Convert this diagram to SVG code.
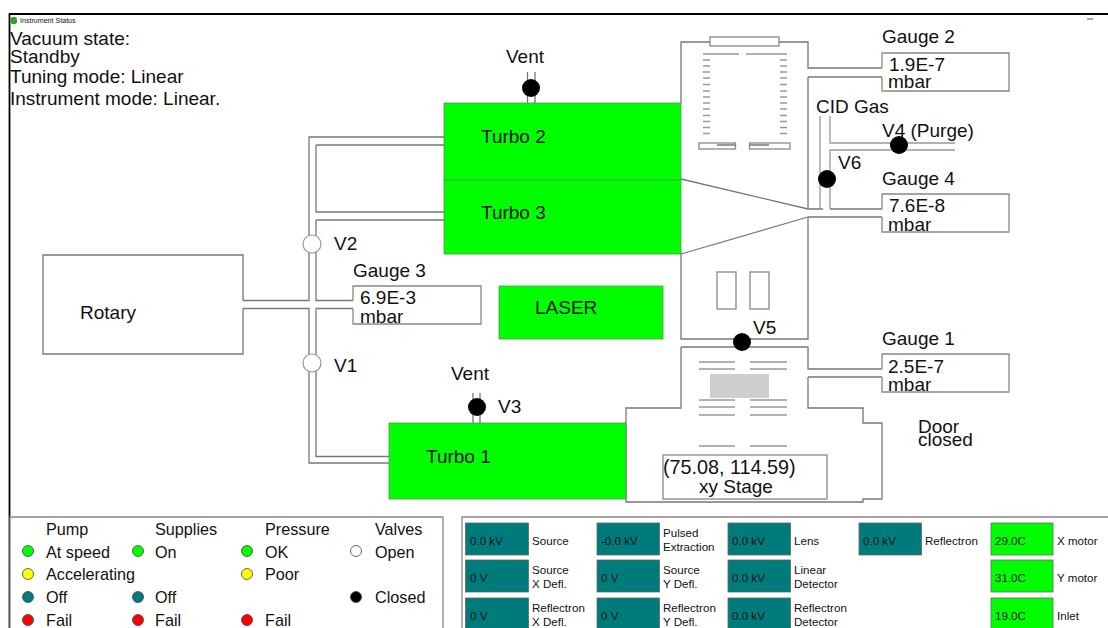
<svg xmlns="http://www.w3.org/2000/svg" width="1108" height="628" viewBox="0 0 1108 628">
<style>
text{font-family:"Liberation Sans",Arial,sans-serif;fill:#111}
.t18{font-size:19px}.t12{font-size:16.2px}.t11{font-size:11.6px}
.ln{fill:none;stroke:#777;stroke-width:1.3}
.lg{fill:none;stroke:#999;stroke-width:1.3}
.box{fill:#fff;stroke:#888;stroke-width:1.3}
.gr{fill:#00ff00;stroke:#4a9a4a;stroke-width:.8}
.te{fill:#007b7b;stroke:#666;stroke-width:.8}
.tg{fill:#00ff00;stroke:#666;stroke-width:.8}
.cb{fill:#000}
.co{fill:#fff;stroke:#999;stroke-width:1.2}
.s{stroke:#444;stroke-width:.8}
</style>
<rect width="1108" height="628" fill="#fff"/>
<path d="M9.500 628V14H1108" fill="none" stroke="#000" stroke-width="1.800"/>
<g id="title"><rect x="10.500" y="17" width="6.500" height="7" rx="2.500" fill="#2ca02c"/><text x="20" y="22.500" font-size="7.100" fill="#444">Instrument Status</text><path d="M1087 19h6" stroke="#555" stroke-width="1"/></g>
<g id="status" class="t18"><text x="10" y="45">Vacuum state:</text><text x="10" y="63">Standby</text><text x="10" y="83">Tuning mode: Linear</text><text x="10" y="105">Instrument mode: Linear.</text></g>
<g id="connectors">
<path class="ln" d="M243 300.500H309V137H444M316 145H444M316 145V212H444M316 220H444M316 220V300.500H353"/>
<path class="ln" d="M243 308.500H309V463H389M316 308.500H353M316 308.500V456.500H389"/>
<path class="ln" d="M681 103V42H808V68H882M808 77H882M808 77V209H823M681 179L808 209M681 254L808 217V339H681V254M808 217H882M830 209H882"/>
<path class="lg" d="M820 116V209M830 116V143H955M955 150H830V209"/>
<path class="ln" d="M527.500 72V103M535 72V103M473 393V423M480 393V423M528 178V180M535 178V180"/>
<path class="ln" d="M681 347H808V369H882M808 377H882M808 377V408H863V423H882V499H863V502H626V408H681V347"/>
</g>
<g id="analyser">
<rect class="box" x="710" y="37" width="69" height="9"/>
<path class="lg" d="M703 54H739M746 54H787M703 60h7M703 66h7M703 72h7M703 78h7M703 84.500h7M703 91h7M703 97h7M703 103h7M703 109h7M703 115.500h7M703 121.500h7M703 127.500h7M703 133.500h7M780 60h7M780 66h7M780 72h7M780 78h7M780 84.500h7M780 91h7M780 97h7M780 103h7M780 109h7M780 115.500h7M780 121.500h7M780 127.500h7M780 133.500h7"/>
<rect class="box" x="699" y="143" width="36.500" height="6"/><rect class="box" x="749.500" y="143" width="40.500" height="6"/>
<path class="ln" d="M717 145H735M750 145H769"/>
<rect class="box" x="717" y="272" width="19" height="37"/><rect class="box" x="750" y="272" width="19" height="37"/>
</g>
<g id="source">
<path class="lg" d="M699 362H735M750 362H787M699 369H735M750 369H787M699 400H735M750 400H787M699 407H735M750 407H787M699 415H735M750 415H787M699 446H735M750 446H787"/>
<rect x="710" y="374" width="59" height="24" fill="#cfcfcf"/>
</g>
<g id="turbo1"><rect class="gr" x="389" y="423" width="237" height="76"/><text class="t18" x="426" y="463">Turbo 1</text></g>
<g id="turbo2"><rect class="gr" x="444" y="103" width="237" height="77"/><text class="t18" x="481" y="143">Turbo 2</text></g>
<g id="turbo3"><rect class="gr" x="444" y="180" width="237" height="74"/><text class="t18" x="481" y="219">Turbo 3</text></g>
<g id="laser"><rect class="gr" x="499" y="286" width="164" height="53"/><text class="t18" x="535" y="314">LASER</text></g>
<g id="rotary"><path class="ln" d="M243 300.500V255H43V354H243V308.500"/><text class="t18" x="80" y="319">Rotary</text></g>
<g id="gauge2"><path class="box" d="M882 68V53H1009V91H882V77"/><text class="t18" x="882" y="43">Gauge 2</text><text class="t18" x="889" y="71">1.9E-7</text><text class="t18" x="888" y="88">mbar</text></g>
<g id="gauge4"><path class="box" d="M882 209V194H1009V232H882V217"/><text class="t18" x="882" y="185">Gauge 4</text><text class="t18" x="889" y="212">7.6E-8</text><text class="t18" x="888" y="231">mbar</text></g>
<g id="gauge1"><path class="box" d="M882 369V354H1009V392H882V377"/><text class="t18" x="882" y="345">Gauge 1</text><text class="t18" x="888" y="373">2.5E-7</text><text class="t18" x="888" y="391">mbar</text></g>
<g id="gauge3"><path class="box" d="M353 300.500V286H481V324H353V308.500"/><text class="t18" x="353" y="277">Gauge 3</text><text class="t18" x="360" y="304">6.9E-3</text><text class="t18" x="360" y="323">mbar</text></g>
<g id="xystage"><rect class="box" x="663" y="455" width="164" height="44"/><text class="t18" x="663" y="474" style="font-size:19.800px">(75.08, 114.59)</text><text class="t18" x="699" y="493">xy Stage</text></g>
<g id="door"><text class="t18" x="918" y="433">Door</text><text class="t18" x="918" y="446">closed</text></g>
<g id="valves">
<circle class="co" cx="312" cy="244" r="9"/><text class="t18" x="334" y="250">V2</text>
<circle class="co" cx="312" cy="363" r="9"/><text class="t18" x="334" y="372">V1</text>
<circle class="cb" cx="531" cy="88" r="9"/><text class="t18" x="506" y="63">Vent</text>
<circle class="cb" cx="477" cy="407" r="9"/><text class="t18" x="451" y="380">Vent</text><text class="t18" x="498" y="413">V3</text>
<circle class="cb" cx="899" cy="145" r="9"/><text class="t18" x="882" y="137">V4 (Purge)</text>
<circle class="cb" cx="827" cy="179" r="9"/><text class="t18" x="838" y="169">V6</text>
<circle class="cb" cx="742" cy="342" r="9"/><text class="t18" x="753" y="334">V5</text>
<text class="t18" x="816" y="113">CID Gas</text>
</g>
<g id="legend">
<path class="box" d="M10 628V517H443V628" fill="#fff"/>
<g class="t12"><text x="46" y="535">Pump</text><text x="155" y="535">Supplies</text><text x="265" y="535">Pressure</text><text x="375" y="535">Valves</text>
<text x="46" y="558">At speed</text><text x="155" y="558">On</text><text x="265" y="558">OK</text><text x="375" y="558">Open</text>
<text x="46" y="580">Accelerating</text><text x="265" y="580">Poor</text>
<text x="46" y="603">Off</text><text x="155" y="603">Off</text><text x="375" y="603">Closed</text>
<text x="46" y="626">Fail</text><text x="155" y="626">Fail</text><text x="265" y="626">Fail</text></g>
<g class="s"><circle cx="28" cy="551" r="5.500" fill="#00ff00"/><circle cx="138" cy="551" r="5.500" fill="#00ff00"/><circle cx="247" cy="551" r="5.500" fill="#00ff00"/>
<circle cx="28" cy="574" r="5.500" fill="#ffff00"/><circle cx="247" cy="574" r="5.500" fill="#ffff00"/>
<circle cx="28" cy="597" r="5.500" fill="#007b7b"/><circle cx="138" cy="597" r="5.500" fill="#007b7b"/>
<circle cx="28" cy="620" r="5.500" fill="#ff0000"/><circle cx="138" cy="620" r="5.500" fill="#ff0000"/><circle cx="247" cy="620" r="5.500" fill="#ff0000"/>
<circle cx="356" cy="551" r="5.500" fill="#fff"/><circle cx="356" cy="597" r="5.500" fill="#000"/></g>
</g>
<g id="readouts">
<path class="box" d="M462 628V517H1108"/>
<g class="t11">
<rect class="te" x="465.500" y="523" width="63" height="32"/><text x="470" y="545">0.0 kV</text><text x="532" y="545">Source</text>
<rect class="te" x="597" y="523" width="62.500" height="32"/><text x="601" y="545">-0.0 kV</text><text x="663" y="537">Pulsed</text><text x="663" y="551">Extraction</text>
<rect class="te" x="728" y="523" width="62.500" height="32"/><text x="732" y="545">0.0 kV</text><text x="794" y="545">Lens</text>
<rect class="te" x="859" y="523" width="62.500" height="32"/><text x="863" y="545">0.0 kV</text><text x="925" y="545">Reflectron</text>
<rect class="tg" x="991" y="523" width="62" height="32"/><text x="995" y="545">29.0C</text><text x="1057" y="545">X motor</text>
<rect class="te" x="465.500" y="560" width="63" height="32"/><text x="470" y="582">0 V</text><text x="532" y="574">Source</text><text x="532" y="588">X Defl.</text>
<rect class="te" x="597" y="560" width="62.500" height="32"/><text x="601" y="582">0 V</text><text x="663" y="574">Source</text><text x="663" y="588">Y Defl.</text>
<rect class="te" x="728" y="560" width="62.500" height="32"/><text x="732" y="582">0.0 kV</text><text x="794" y="574">Linear</text><text x="794" y="588">Detector</text>
<rect class="tg" x="991" y="560" width="62" height="32"/><text x="995" y="582">31.0C</text><text x="1057" y="582">Y motor</text>
<rect class="te" x="465.500" y="598" width="63" height="34"/><text x="470" y="620">0 V</text><text x="532" y="612">Reflectron</text><text x="532" y="626">X Defl.</text>
<rect class="te" x="597" y="598" width="62.500" height="34"/><text x="601" y="620">0 V</text><text x="663" y="612">Reflectron</text><text x="663" y="626">Y Defl.</text>
<rect class="te" x="728" y="598" width="62.500" height="34"/><text x="732" y="620">0.0 kV</text><text x="794" y="612">Reflectron</text><text x="794" y="626">Detector</text>
<rect class="tg" x="991" y="598" width="62" height="34"/><text x="995" y="620">19.0C</text><text x="1057" y="620">Inlet</text>
</g>
</g>
</svg>
